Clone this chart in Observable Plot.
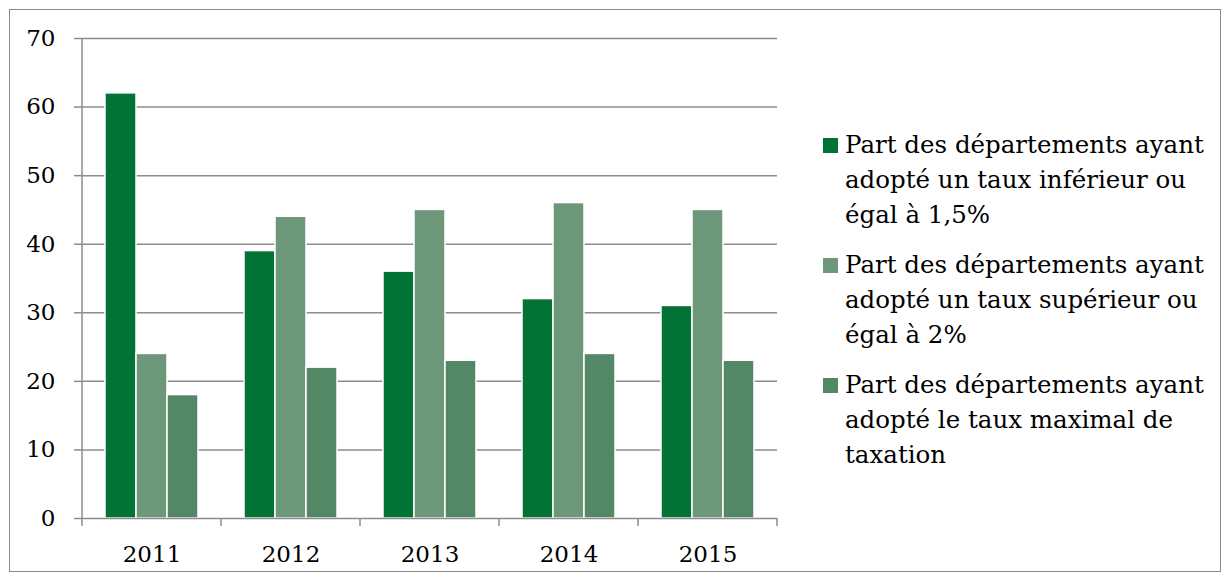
<!DOCTYPE html>
<html><head><meta charset="utf-8">
<script src="https://cdn.jsdelivr.net/npm/d3@7"></script>
<script src="https://cdn.jsdelivr.net/npm/@observablehq/plot@0.6"></script>
<style>
body{margin:0;background:#fff;}
#wrap{position:relative;width:1230px;height:581px;font-family:"DejaVu Serif",serif;overflow:hidden;}
#border{position:absolute;left:9px;top:9px;width:1212px;height:563px;border:1.5px solid #8a8a8a;box-sizing:border-box;}
#chart{position:absolute;left:0;top:0;}
#legend{position:absolute;left:823px;top:127px;font-size:24.5px;line-height:35px;color:#000;white-space:nowrap;}
.item{display:flex;margin-bottom:15px;}
.sw{width:15px;height:15px;margin-top:11px;margin-right:7px;flex:none;}
</style></head><body>
<div id="wrap"><div id="border"></div><div id="chart"></div><div id="legend"></div></div>
<script>
const years = ["2011", "2012", "2013", "2014", "2015"];
const seriesKeys = ["inf", "sup", "max"];
const seriesLines = [
  ["Part des départements ayant", "adopté un taux inférieur ou", "égal à 1,5%"],
  ["Part des départements ayant", "adopté un taux supérieur ou", "égal à 2%"],
  ["Part des départements ayant", "adopté le taux maximal de", "taxation"]
];
const serieInf = [62, 39, 36, 32, 31];
const serieSup = [24, 44, 45, 46, 45];
const serieMax = [18, 22, 23, 24, 23];
const colors = ["#037235", "#6c9778", "#538766"];
const yTicks = [0, 10, 20, 30, 40, 50, 60, 70];

const allSeries = [serieInf, serieSup, serieMax];
const data = years.flatMap((yr, i) => allSeries.map((s, j) => ({year: yr, serie: seriesKeys[j], value: s[i]})));

const grey = "#8c8c8c";
const chart = Plot.plot({
  width: 790, height: 581,
  marginLeft: 80, marginRight: 11, marginTop: 38, marginBottom: 63,
  style: {fontFamily: "DejaVu Serif", fontSize: "23px", color: "#000", background: "transparent"},
  fx: {domain: years, padding: 0, label: null, axis: null},
  x: {domain: seriesKeys, paddingInner: 0, paddingOuter: 0.72, axis: null},
  y: {domain: [0, 70], ticks: yTicks, label: null, axis: null},
  color: {domain: seriesKeys, range: colors},
  marks: [
    Plot.ruleY(yTicks.slice(1), {stroke: grey, strokeWidth: 1.5}),
    Plot.barY(data, {fx: "year", x: "serie", y: "value", fill: "serie", stroke: "white", strokeWidth: 1.5}),
    Plot.ruleY([0], {stroke: grey, strokeWidth: 1.5}),
    Plot.axisY({ticks: yTicks, tickSize: 8, tickPadding: 19, stroke: grey, strokeWidth: 1.5, fontSize: 23, strokeOpacity: 1}),
    Plot.axisFx({anchor: "bottom", tickSize: 0, tickPadding: 27, fontSize: 23, label: null})
  ]
});
document.getElementById("chart").appendChild(chart);

// axis line and category boundary ticks derived from scales
const fx = chart.scale("fx"), ys = chart.scale("y");
const svg = d3.select(chart);
const edges = years.map(v => fx.apply(v)).concat([fx.apply(years[years.length - 1]) + fx.bandwidth]);
const y0 = ys.apply(0), yTop = ys.apply(70);
const g = svg.append("g").attr("stroke", grey).attr("stroke-width", 1.5);
g.append("line").attr("x1", edges[0]).attr("x2", edges[0]).attr("y1", yTop).attr("y2", y0);
edges.forEach(e => g.append("line").attr("x1", e).attr("x2", e).attr("y1", y0).attr("y2", y0 + 8));

const legend = d3.select("#legend");
seriesLines.forEach((lines, i) => {
  const it = legend.append("div").attr("class", "item");
  it.append("div").attr("class", "sw").style("background", colors[i]);
  it.append("div").html(lines.join("<br>"));
});
</script>
</body></html>
